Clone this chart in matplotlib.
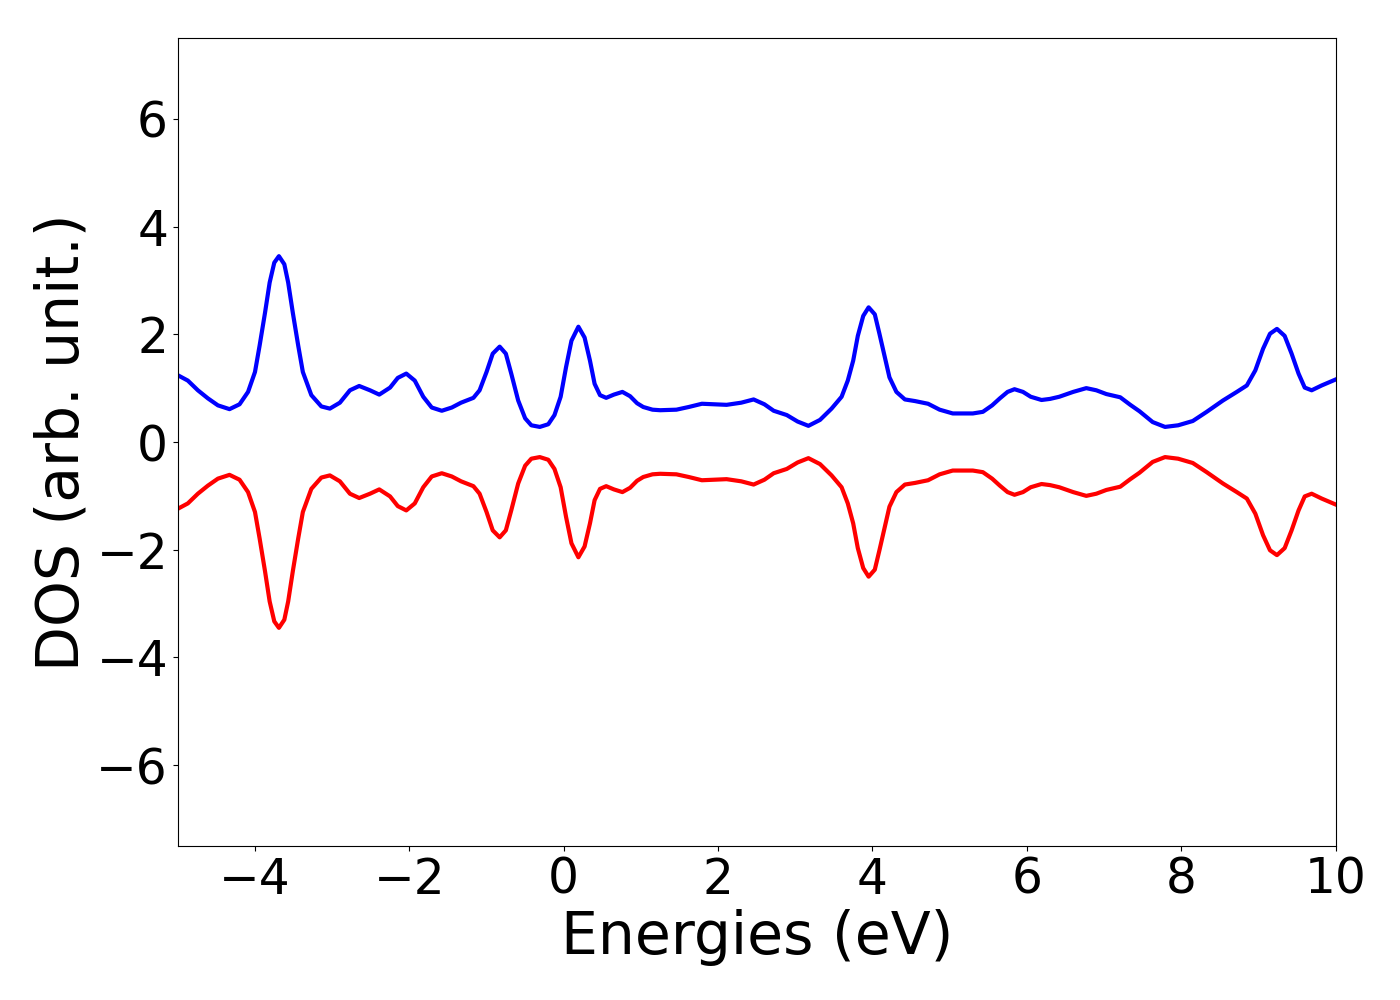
import matplotlib
matplotlib.use("Agg")
import matplotlib.pyplot as plt

energies = [-5.00, -4.87, -4.74, -4.61, -4.48, -4.33, -4.20, -4.09, -4.00, -3.94,
            -3.87, -3.81, -3.75, -3.69, -3.62, -3.57, -3.51, -3.44, -3.38, -3.27,
            -3.14, -3.03, -2.90, -2.77, -2.65, -2.51, -2.39, -2.25, -2.15, -2.04,
            -1.93, -1.82, -1.71, -1.58, -1.45, -1.33, -1.17, -1.09, -1.00, -0.92,
            -0.83, -0.75, -0.68, -0.59, -0.50, -0.42, -0.31, -0.20, -0.12, -0.04,
            0.03, 0.10, 0.19, 0.27, 0.34, 0.40, 0.47, 0.55, 0.65, 0.76,
            0.86, 0.95, 1.03, 1.15, 1.25, 1.46, 1.62, 1.79, 1.95, 2.11,
            2.30, 2.46, 2.60, 2.72, 2.89, 3.03, 3.17, 3.32, 3.47, 3.60,
            3.68, 3.75, 3.81, 3.88, 3.95, 4.03, 4.09, 4.16, 4.22, 4.31,
            4.42, 4.55, 4.72, 4.87, 5.04, 5.30, 5.43, 5.55, 5.65, 5.75,
            5.84, 5.95, 6.05, 6.19, 6.30, 6.42, 6.60, 6.77, 6.90, 7.03,
            7.21, 7.34, 7.46, 7.63, 7.79, 7.96, 8.15, 8.33, 8.54, 8.72,
            8.85, 8.96, 9.06, 9.15, 9.24, 9.34, 9.43, 9.52, 9.60, 9.69,
            9.82, 10.00]

dos_up = [1.24, 1.14, 0.96, 0.81, 0.68, 0.61, 0.70, 0.93, 1.30, 1.79,
          2.40, 2.96, 3.33, 3.45, 3.30, 2.96, 2.40, 1.79, 1.30, 0.87,
          0.66, 0.62, 0.73, 0.96, 1.04, 0.96, 0.88, 1.01, 1.19, 1.27,
          1.14, 0.84, 0.64, 0.58, 0.64, 0.73, 0.82, 0.96, 1.30, 1.64,
          1.77, 1.64, 1.27, 0.77, 0.44, 0.31, 0.28, 0.33, 0.50, 0.84,
          1.39, 1.88, 2.14, 1.94, 1.51, 1.08, 0.87, 0.82, 0.88, 0.93,
          0.85, 0.72, 0.65, 0.60, 0.59, 0.60, 0.65, 0.71, 0.70, 0.69,
          0.73, 0.79, 0.70, 0.58, 0.50, 0.38, 0.30, 0.41, 0.62, 0.84,
          1.14, 1.51, 1.97, 2.34, 2.50, 2.37, 2.01, 1.57, 1.20, 0.93,
          0.79, 0.76, 0.71, 0.60, 0.53, 0.53, 0.56, 0.68, 0.81, 0.93,
          0.98, 0.93, 0.84, 0.78, 0.80, 0.84, 0.93, 1.00, 0.96, 0.89,
          0.83, 0.69, 0.57, 0.37, 0.28, 0.31, 0.39, 0.56, 0.77, 0.93,
          1.05, 1.33, 1.73, 2.01, 2.10, 1.97, 1.64, 1.27, 1.01, 0.96,
          1.05, 1.16]

dos_down = [-1.24, -1.14, -0.96, -0.81, -0.68, -0.61, -0.70, -0.93, -1.30, -1.79,
            -2.40, -2.96, -3.33, -3.45, -3.30, -2.96, -2.40, -1.79, -1.30, -0.87,
            -0.66, -0.62, -0.73, -0.96, -1.04, -0.96, -0.88, -1.01, -1.19, -1.27,
            -1.14, -0.84, -0.64, -0.58, -0.64, -0.73, -0.82, -0.96, -1.30, -1.64,
            -1.77, -1.64, -1.27, -0.77, -0.44, -0.31, -0.28, -0.33, -0.50, -0.84,
            -1.39, -1.88, -2.14, -1.94, -1.51, -1.08, -0.87, -0.82, -0.88, -0.93,
            -0.85, -0.72, -0.65, -0.60, -0.59, -0.60, -0.65, -0.71, -0.70, -0.69,
            -0.73, -0.79, -0.70, -0.58, -0.50, -0.38, -0.30, -0.41, -0.62, -0.84,
            -1.14, -1.51, -1.97, -2.34, -2.50, -2.37, -2.01, -1.57, -1.20, -0.93,
            -0.79, -0.76, -0.71, -0.60, -0.53, -0.53, -0.56, -0.68, -0.81, -0.93,
            -0.98, -0.93, -0.84, -0.78, -0.80, -0.84, -0.93, -1.00, -0.96, -0.89,
            -0.83, -0.69, -0.57, -0.37, -0.28, -0.31, -0.39, -0.56, -0.77, -0.93,
            -1.05, -1.33, -1.73, -2.01, -2.10, -1.97, -1.64, -1.27, -1.01, -0.96,
            -1.05, -1.16]

x_ticks = [-4, -2, 0, 2, 4, 6, 8, 10]
y_ticks = [-6, -4, -2, 0, 2, 4, 6]

fig = plt.figure(figsize=(14, 10), dpi=100)
ax = fig.add_axes([0.127, 0.154, 0.827, 0.808])
ax.plot(energies, dos_up, color="blue", lw=3, solid_joinstyle="round")
ax.plot(energies, dos_down, color="red", lw=3, solid_joinstyle="round")
ax.set_xlim(-5, 10)
ax.set_ylim(-7.5, 7.5)
ax.set_xticks(x_ticks)
ax.set_yticks(y_ticks)
ax.tick_params(labelsize=35)
ax.set_xlabel("Energies (eV)", fontsize=42)
ax.set_ylabel("DOS (arb. unit.)", fontsize=42)
fig.savefig("out.png", dpi=100)
